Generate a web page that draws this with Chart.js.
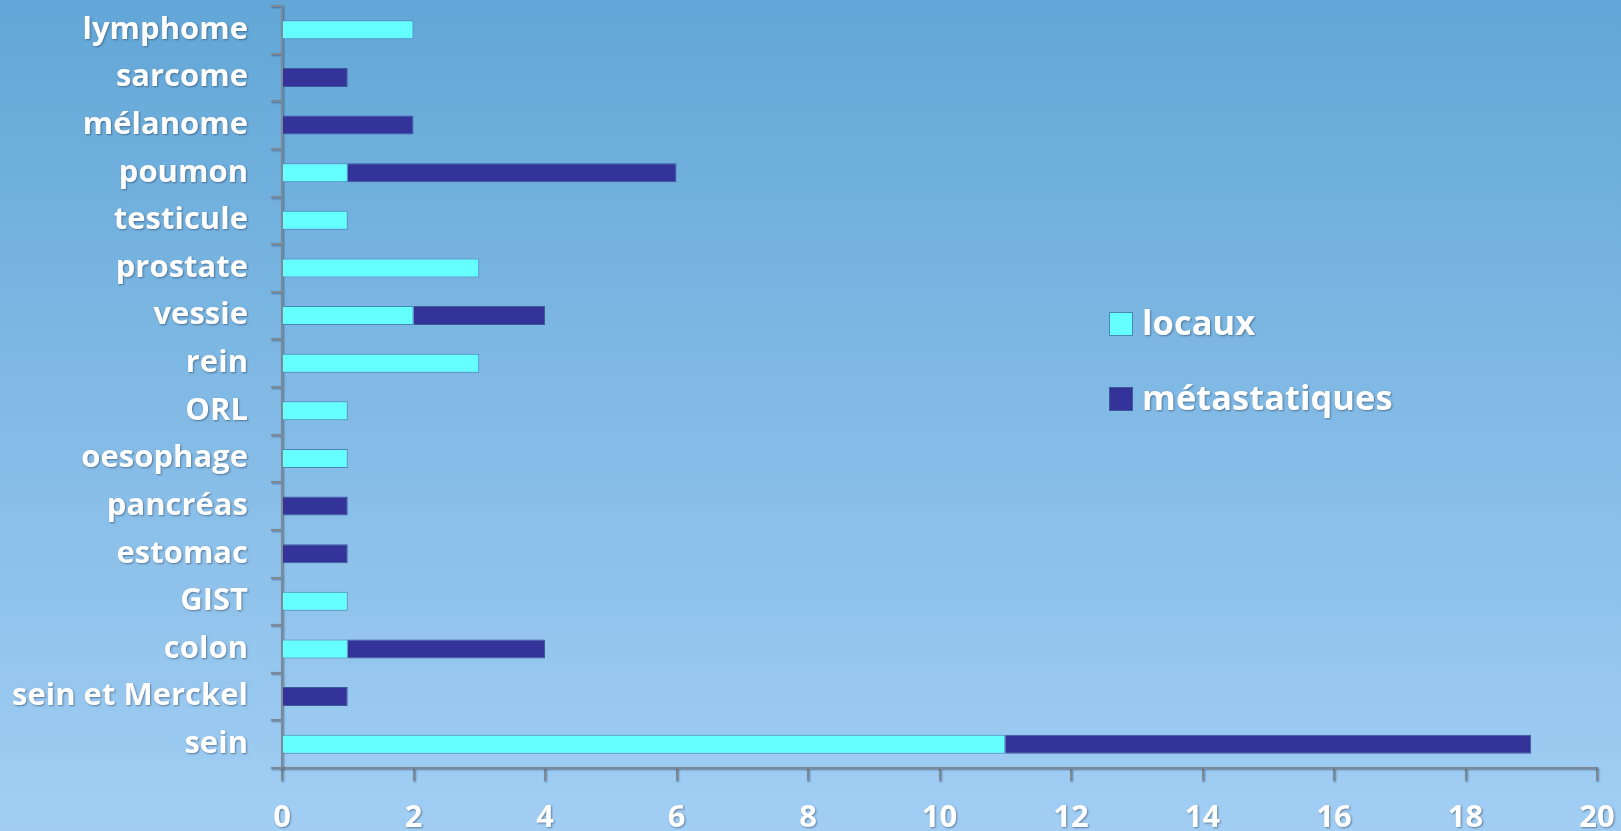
<!DOCTYPE html>
<html>
<head>
<meta charset="utf-8">
<script src="https://cdn.jsdelivr.net/npm/chart.js@4"></script>
<style>
html,body{margin:0;padding:0;width:1621px;height:831px;overflow:hidden;}
#wrap{position:relative;width:1621px;height:831px;}
</style>
</head>
<body>
<div id="wrap"><canvas id="c" width="1621" height="831"></canvas></div>
<script>
const categories = ["lymphome","sarcome","mélanome","poumon","testicule","prostate","vessie","rein","ORL","oesophage","pancréas","estomac","GIST","colon","sein et Merckel","sein"];
const locaux =        [2,0,0,1,1,3,2,3,1,1,0,0,1,1,0,11];
const metastatiques = [0,1,2,5,0,0,2,0,0,0,1,1,0,3,1,8];
const seriesNames = ["locaux","métastatiques"];
const xTicks = [0,2,4,6,8,10,12,14,16,18,20];

const FONT = "'Open Sans', 'DejaVu Sans', sans-serif";

const bgPlugin = {
  id:'bg',
  beforeDraw(chart){
    const {ctx,width,height} = chart;
    const g = ctx.createLinearGradient(0,0,0,height);
    g.addColorStop(0,'#62a7d7');
    g.addColorStop(1,'#a2cef4');
    ctx.save();
    ctx.fillStyle = g;
    ctx.fillRect(0,0,width,height);
    ctx.restore();
    ctx.save();
    ctx.shadowColor='rgba(40,60,90,0.55)';
    ctx.shadowBlur=2;
    ctx.shadowOffsetX=1;
    ctx.shadowOffsetY=1;
  },
  beforeDatasetsDraw(chart){
    chart.ctx.restore();
  }
};

const legendPlugin = {
  id:'customLegend',
  afterDraw(chart){
    const {ctx} = chart;
    const ds = chart.data.datasets;
    const x0 = 1109, ys=[324,399], box=24;
    ctx.save();
    ds.forEach((d,i)=>{
      ctx.fillStyle = d.backgroundColor;
      ctx.strokeStyle = d.borderColor;
      ctx.lineWidth = 1;
      ctx.fillRect(x0, ys[i]-box/2, box, box);
      ctx.strokeRect(x0+0.5, ys[i]-box/2+0.5, box-1, box-1);
      ctx.shadowColor='rgba(40,60,90,0.55)';
      ctx.shadowBlur=2; ctx.shadowOffsetX=1; ctx.shadowOffsetY=1;
      ctx.fillStyle='#ffffff';
      ctx.font = "700 34.5px " + FONT;
      ctx.textBaseline='middle';
      ctx.fillText(d.label, x0+box+9, ys[i]+1);
      ctx.shadowColor='transparent';
    });
    ctx.restore();
  }
};

new Chart(document.getElementById('c'), {
  type:'bar',
  data:{
    labels: categories,
    datasets:[
      {label:seriesNames[0], data:locaux, backgroundColor:'#66ffff', borderColor:'#4a86b8', borderWidth:1, barPercentage:0.8, categoryPercentage:0.5},
      {label:seriesNames[1], data:metastatiques, backgroundColor:'#333399', borderColor:'#3c5a9a', borderWidth:1, barPercentage:0.8, categoryPercentage:0.5}
    ]
  },
  options:{
    indexAxis:'y',
    responsive:false,
    animation:false,
    layout:{padding:{top:6,right:24,left:0,bottom:0}},
    plugins:{legend:{display:false},tooltip:{enabled:false}},
    scales:{
      x:{
        stacked:true, min:0, max:20,
        afterBuildTicks(scale){ scale.ticks = xTicks.map(v=>({value:v})); },
        afterFit(scale){ scale.height = 63; scale.paddingLeft = 0; scale.paddingRight = 0; },
        grid:{drawOnChartArea:false, drawTicks:true, tickLength:13, color:'#7d8a96', lineWidth:2},
        border:{display:true, color:'#7d8a96', width:2},
        ticks:{color:'#ffffff', font:{family:FONT, size:31, weight:'700'}, padding:19, maxRotation:0}
      },
      y:{
        stacked:true,
        afterFit(scale){ scale.width = 282; scale.paddingTop = 0; scale.paddingBottom = 0; },
        grid:{offset:true, drawOnChartArea:false, drawTicks:true, tickLength:11, color:'#7d8a96', lineWidth:2},
        border:{display:true, color:'#7d8a96', width:2},
        ticks:{color:'#ffffff', font:{family:FONT, size:31, weight:'700'}, padding:23, autoSkip:false}
      }
    }
  },
  plugins:[bgPlugin, legendPlugin]
});
</script>
</body>
</html>
